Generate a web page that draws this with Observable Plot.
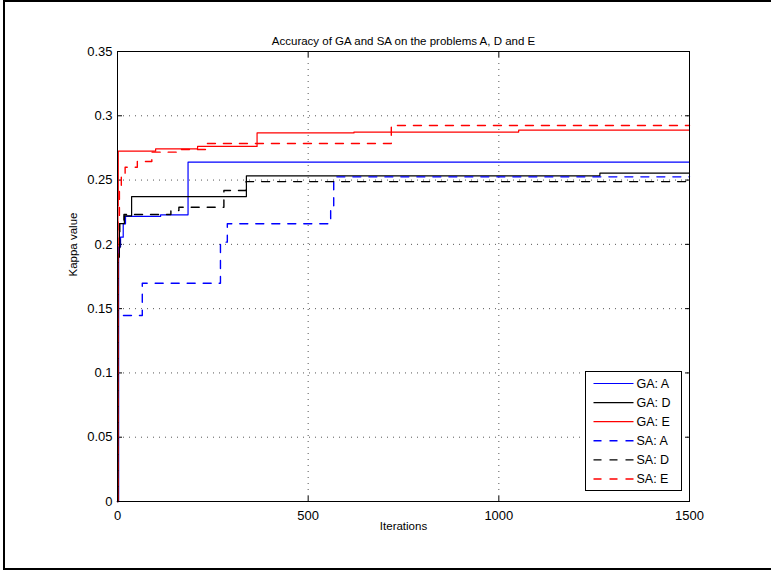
<!DOCTYPE html>
<html>
<head>
<meta charset="utf-8">
<script src="https://cdn.jsdelivr.net/npm/d3@7"></script>
<script src="https://cdn.jsdelivr.net/npm/@observablehq/plot@0.6"></script>
<style>
  html, body { margin: 0; padding: 0; background: #fff; overflow: hidden; }
  #wrap { position: relative; width: 771px; height: 571px; overflow: hidden; font-family: "Liberation Sans", Arial, Helvetica, sans-serif; }
  #border { position: absolute; left: 3px; top: 0px; width: 800px; height: 566px; border: 2px solid #000; }
  #chart { position: absolute; left: 0; top: 0; }
  #legend { position: absolute; left: 0; top: 0; }
</style>
</head>
<body>
<div id="wrap">
  <div id="border"></div>
  <div id="chart"></div>
  <svg id="legend" width="771" height="571"></svg>
</div>
<script>
// ---- data ----
const titleText = "Accuracy of GA and SA on the problems A, D and E";
const xLabel = "Iterations";
const yLabel = "Kappa value";
const xTicks = [0, 500, 1000, 1500];
const yTicks = [0, 0.05, 0.1, 0.15, 0.2, 0.25, 0.3, 0.35];

const seriesNames = ["GA: A", "GA: D", "GA: E", "SA: A", "SA: D", "SA: E"];
const seriesColors = ["#0000ff", "#000000", "#ff0000", "#0000ff", "#000000", "#ff0000"];
const seriesDashed = [false, false, false, true, true, true];

const gaA_iter  = [0, 3, 8, 15, 21, 113, 185, 1500];
const gaA_kappa = [0, 0.198, 0.2056, 0.216, 0.2217, 0.223, 0.2639, 0.2639];

const gaD_iter  = [0, 2, 5, 18, 37, 338, 1265, 1500];
const gaD_kappa = [0, 0.19, 0.2162, 0.2222, 0.2372, 0.2533, 0.2554, 0.2554];

const gaE_iter  = [0, 1, 2, 100, 210, 366, 620, 1052, 1500];
const gaE_kappa = [0, 0.23, 0.2725, 0.2743, 0.2762, 0.2867, 0.2873, 0.2888, 0.2888];

const saA_iter  = [0, 1, 65, 270, 288, 559, 567, 1500];
const saA_kappa = [0, 0.1447, 0.1698, 0.2017, 0.216, 0.2289, 0.2525, 0.2525];

const saD_iter  = [0, 2, 6, 17, 140, 161, 279, 337, 1500];
const saD_kappa = [0, 0.193, 0.216, 0.2232, 0.2263, 0.2289, 0.2419, 0.2488, 0.2488];

const saE_iter  = [0, 1, 5, 10, 20, 52, 90, 165, 235, 718, 1500];
const saE_kappa = [0, 0.22, 0.245, 0.255, 0.26, 0.2645, 0.2717, 0.2738, 0.2785, 0.2925, 0.2925];

const seriesIters = [gaA_iter, gaD_iter, gaE_iter, saA_iter, saD_iter, saE_iter];
const seriesKappas = [gaA_kappa, gaD_kappa, gaE_kappa, saA_kappa, saD_kappa, saE_kappa];

// ---- build table ----
const rows = [];
seriesNames.forEach((name, i) => {
  seriesIters[i].forEach((it, j) => rows.push({series: name, iter: it, kappa: seriesKappas[i][j]}));
});

const fontFamily = "Liberation Sans, Arial, Helvetica, sans-serif";
const dash = "8,8";

const lineMarks = seriesNames.map((name, i) =>
  Plot.line(rows.filter(d => d.series === name), {
    x: "iter", y: "kappa", curve: "step-after",
    stroke: seriesColors[i],
    strokeWidth: seriesDashed[i] ? 1.4 : 1.2,
    strokeDasharray: seriesDashed[i] ? dash : null
  })
);

const chart = Plot.plot({
  width: 771,
  height: 571,
  marginLeft: 117,
  marginRight: 82,
  marginTop: 51,
  marginBottom: 70,
  style: {fontFamily: fontFamily, fontSize: "13px", background: "transparent", color: "#000"},
  x: {domain: [0, 1500], ticks: xTicks},
  y: {domain: [0, 0.35], ticks: yTicks},
  marks: [
    Plot.gridX(xTicks, {stroke: "#444", strokeOpacity: 0.9, strokeDasharray: "1,5"}),
    Plot.gridY(yTicks, {stroke: "#444", strokeOpacity: 0.9, strokeDasharray: "1,5"}),
    Plot.axisX(xTicks, {anchor: "bottom", tickSize: 0, tickPadding: 9, label: null, tickFormat: d => String(d), fontSize: 13}),
    Plot.axisY(yTicks, {anchor: "left", tickSize: 0, tickPadding: 5, label: null, tickFormat: d => String(+d.toFixed(2)), fontSize: 13}),
    Plot.axisX(xTicks, {anchor: "bottom", tickSize: -5, tickFormat: () => "", label: null}),
    Plot.axisX(xTicks, {anchor: "top", tickSize: -5, tickFormat: () => "", label: null}),
    Plot.axisY(yTicks, {anchor: "left", tickSize: -5, tickFormat: () => "", label: null}),
    Plot.axisY(yTicks, {anchor: "right", tickSize: -5, tickFormat: () => "", label: null}),
    ...lineMarks,
    Plot.frame({stroke: "#000", strokeWidth: 1}),
    Plot.text([titleText], {text: d => d, frameAnchor: "top", dy: -15, fontSize: 11.5}),
    Plot.text([xLabel], {text: d => d, frameAnchor: "bottom", dy: 28, fontSize: 11.5}),
    Plot.text([yLabel], {text: d => d, frameAnchor: "left", dx: -44, rotate: -90, fontSize: 11.5})
  ]
});
document.getElementById("chart").appendChild(chart);

// ---- legend (drawn with d3 in an overlay) ----
const leg = d3.select("#legend");
const lx = 585.5, ly = 371.5, lw = 96, lh = 119, rowH = 19.1;
leg.append("rect").attr("x", lx).attr("y", ly).attr("width", lw).attr("height", lh)
  .attr("fill", "#fff").attr("stroke", "#000").attr("stroke-width", 1);
seriesNames.forEach((name, i) => {
  const cy = ly + 12 + i * rowH;
  leg.append("line").attr("x1", lx + 8).attr("x2", lx + 48).attr("y1", cy).attr("y2", cy)
    .attr("stroke", seriesColors[i]).attr("stroke-width", seriesDashed[i] ? 1.4 : 1.2)
    .attr("stroke-dasharray", seriesDashed[i] ? dash : null);
  leg.append("text").attr("x", lx + 51).attr("y", cy).attr("dy", "0.35em")
    .attr("font-family", fontFamily).attr("font-size", 12.5).text(name);
});
</script>
</body>
</html>
